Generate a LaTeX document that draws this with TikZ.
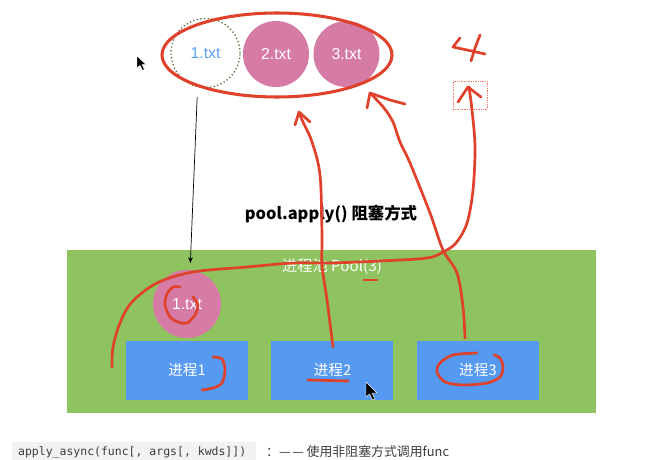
\documentclass[tikz,border=0pt]{standalone}
\usepackage{fontspec}
\setmainfont{Liberation Sans}
\setmonofont{DejaVu Sans Mono}
\newfontfamily\cjk{Noto Sans CJK SC}
\usetikzlibrary{positioning, arrows.meta}
\definecolor{penRed}{HTML}{E0412A}
\definecolor{poolGreen}{HTML}{8EC35F}
\definecolor{procBlue}{HTML}{5599F0}
\definecolor{filePink}{HTML}{D67BA6}
\definecolor{fileBlue}{HTML}{5AA0F0}
\definecolor{doneBorder}{HTML}{5E6B3C}
\definecolor{codeBg}{HTML}{F2F2F2}
\definecolor{codeText}{HTML}{3C3C3C}
\tikzset{
  filecircle/.style={circle, fill=filePink, minimum size=1.98cm, inner sep=0pt,
    font=\fontsize{13.5}{15}\selectfont, text=white},
  donecircle/.style={circle, draw=doneBorder, dotted, line width=1.1pt,
    minimum size=2.07cm, inner sep=0pt,
    font=\fontsize{13.5}{15}\selectfont, text=fileBlue},
  poolbox/.style={fill=poolGreen, minimum width=15.87cm, minimum height=4.89cm,
    inner sep=0pt},
  procbox/.style={fill=procBlue, minimum width=3.66cm, minimum height=1.77cm,
    inner sep=0pt, font=\cjk\fontsize{12.5}{14}\selectfont, text=white},
  slotbox/.style={draw=penRed!70, densely dotted, line width=0.5pt,
    minimum width=1.02cm, minimum height=0.84cm, inner sep=0pt},
  redpen/.style={draw=penRed, line width=2.3pt, line cap=round, line join=round},
  blackarrow/.style={-{Stealth[length=5pt, width=4pt]}, line width=0.6pt, color=black},
  cursor/.style={fill=black, draw=white, line width=0.4pt},
}
\begin{document}
\begin{tikzpicture}[x=0.03cm, y=-0.03cm]

  \useasboundingbox[fill=white] (0,0) rectangle (649,460);

  % === Files waiting ===
  \node[donecircle] (f1) at (205.5,53) {1.txt};
  \node[filecircle] (f2) at (276,54) {2.txt};
  \node[filecircle, right=0.12cm of f2] (f3) {3.txt};

  % === Title ===
  \node[font=\cjk\bfseries\fontsize{14}{16}\selectfont] (title) at (331,214) {pool.apply() 阻塞方式};

  % === Pool ===
  \node[poolbox] (pool) at (331.5,331.5) {};
  \node[font=\cjk\fontsize{13}{15}\selectfont, text=white] (poolname) at (332,267) {进程池 Pool(3)};
  \node[filecircle, minimum size=2.04cm] (job) at (187,304) {1.txt};

  \node[procbox] (p1) at (187,370.5) {进程1};
  \node[procbox, right=0.69cm of p1] (p2) {进程2};
  \node[procbox, right=0.69cm of p2] (p3) {进程3};

  % Arrow: file -> process pool
  \draw[blackarrow] ([xshift=-0.25cm, yshift=-0.27cm]f1.south) -- ([xshift=0.1cm, yshift=0.2cm]job.north);

  % === Bottom line ===
  \fill[codeBg] (12,442) rectangle (256,460);
  \node[font=\ttfamily\fontsize{9.8}{12}\selectfont, text=codeText, anchor=west] (code) at (14,452) {apply\_async(func[, args[, kwds]])};
  \node[font=\cjk\fontsize{11}{13}\selectfont, text=codeText, anchor=west] (note) at (262,452) {：—\hspace{1.5pt}— 使用非阻塞方式调用func};

  % === Red pen marks ===
  \draw[redpen, line width=2.6pt] (277,55) ellipse [x radius=3.45cm, y radius=1.26cm];
  \node[slotbox] (slot) at (470,95) {};

  % "4"
  \draw[redpen] (460,38) -- (453,47) -- (467,50) -- (485,54);
  \draw[redpen] (480,35) -- (475,48) -- (471,61);

  % process 1 -> slot
  \draw[redpen] plot[smooth, tension=0.55] coordinates {(112,367) (113,347) (120,323) (132,302)
    (157,283) (193,272) (247,267) (293,263) (330,263) (380,261) (427,258) (443,252)
    (456,243) (467,223) (473,190) (475,147) (472,110) (469,87)};
  \draw[redpen] (458,102) -- (468,87) -- (481,97);

  % process 2 -> top
  \draw[redpen] plot[smooth, tension=0.55] coordinates {(333,347) (327,300) (322,265) (322,235)
    (320,175) (312,142) (303,122) (299,113)};
  \draw[redpen] (295,125) -- (299,112) -- (310,122);

  % process 3 -> top
  \draw[redpen] plot[smooth, tension=0.55] coordinates {(465,338) (463,307) (457,273) (443,250)
    (430,213) (410,163) (400,142) (393,122) (384,108) (372,95)};
  \draw[redpen] (367,108) -- (370,93) -- (390,100) -- (405,104);

  % small marks
  \draw[redpen] (364,280) -- (377,280);
  \draw[redpen] plot[smooth, tension=0.5] coordinates {(180,287) (173,287) (167,294) (165,305)
    (170,317) (178,322) (187,323) (195,315) (198,305) (193,297)};
  \draw[redpen] plot[smooth, tension=0.5] coordinates {(213,357) (222,359) (225,370) (222,383)
    (213,388) (202,390)};
  \draw[redpen] (308,380) -- (348,381);
  \draw[redpen] plot[smooth, tension=0.5] coordinates {(477,353) (453,355) (440,363) (437,372)
    (445,382) (463,385) (487,383) (500,377) (503,367) (500,358) (494,355)};

  % mouse pointers
  \fill[cursor] (137,56) -- (137,68) -- (140,65.5) -- (142.5,70.5) -- (144.5,69.5) -- (142,64.5) -- (146,64.5) -- cycle;
  \fill[cursor] (366,382) -- (366,397) -- (369.5,394) -- (372.5,400) -- (375,399) -- (372,393) -- (377,393) -- cycle;

\end{tikzpicture}
\end{document}
